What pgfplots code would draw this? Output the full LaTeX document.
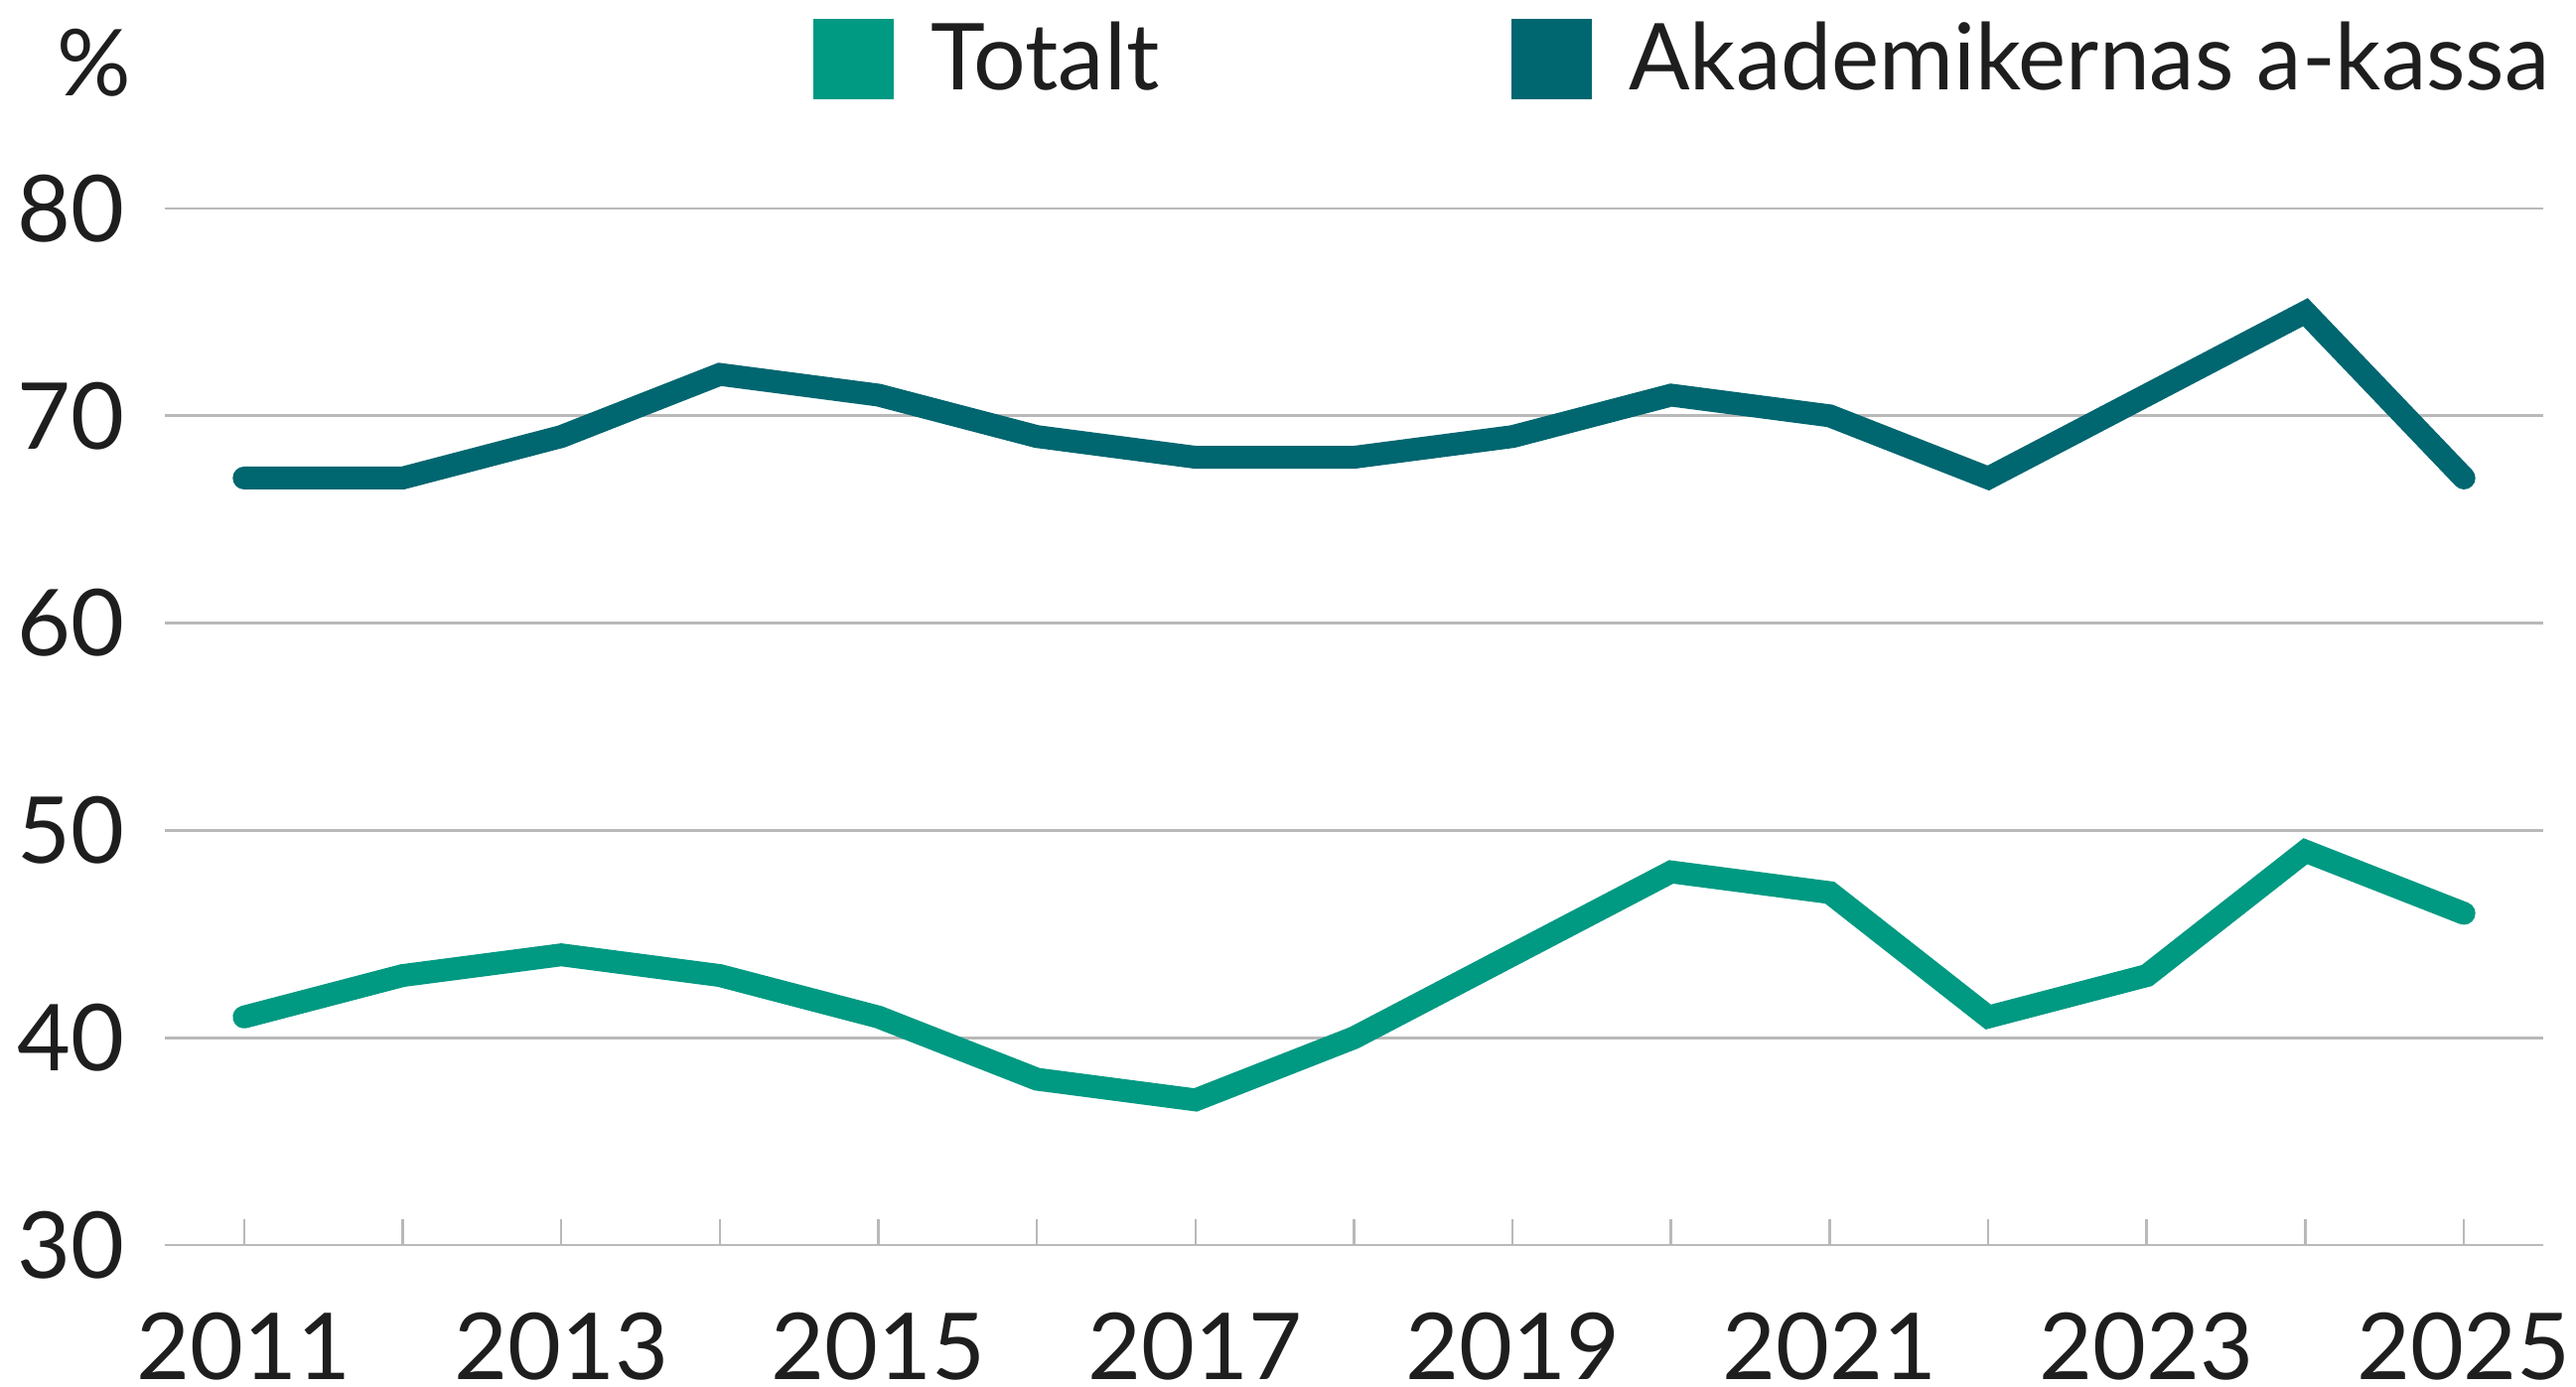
\documentclass[border=0pt]{standalone}
\usepackage{fontspec}
\setmainfont{Lato}
\usepackage{pgfplots}
\pgfplotsset{compat=1.18}
\definecolor{totc}{RGB}{0,153,130}
\definecolor{akac}{RGB}{0,102,112}
\definecolor{gridc}{RGB}{185,185,185}
\definecolor{txt}{RGB}{30,30,30}
\begin{document}
\begin{tikzpicture}
\begin{axis}[
  at={(0,0)}, anchor=south west,
  scale only axis,
  width=479pt, height=208.8pt,
  xmin=2010.5, xmax=2025.5,
  ymin=30, ymax=80,
  clip=false,
  axis line style={draw=none},
  ytick={30,40,50,60,70,80},
  xtick={2011,2012,...,2025},
  xticklabels={2011,,2013,,2015,,2017,,2019,,2021,,2023,,2025},
  xtick pos=bottom, ytick pos=left,
  xtick align=inside,
  major tick length=5.2pt,
  xtick style={draw=gridc, line width=0.5pt},
  ytick style={draw=none},
  ymajorgrids,
  grid style={draw=gridc, line width=0.55pt},
  /pgf/number format/assume math mode=true,
  tick label style={font=\fontsize{18.6pt}{22pt}\selectfont, text=txt},
  yticklabel style={anchor=east, inner sep=0pt, xshift=-8pt},
  xticklabel style={anchor=north, inner sep=0pt, yshift=-13.4pt},
  legend columns=2,
  legend image code/.code={\fill[#1, draw=none] (0pt,-8.1pt) rectangle (16.2pt,8.1pt);},
  legend style={draw=none, fill=none, at={(axis description cs:1,1.144)}, anchor=east, xshift=1.5pt,
    font=\fontsize{18.6pt}{22pt}\selectfont, text=txt, inner sep=0pt,
    nodes={inner sep=0pt},
    /tikz/every odd column/.append style={column sep=7.4pt},
    /tikz/every even column/.append style={column sep=71pt}},
]
\addplot[color=totc, line width=4.6pt, line cap=round] coordinates {
(2011,41) (2012,43) (2013,44) (2014,43) (2015,41) (2016,38) (2017,37) (2018,40)
(2019,44) (2020,48) (2021,47) (2022,41) (2023,43) (2024,49) (2025,46)};
\addlegendentry{Totalt}
\addplot[color=akac, line width=4.6pt, line cap=round] coordinates {
(2011,67) (2012,67) (2013,69) (2014,72) (2015,71) (2016,69) (2017,68) (2018,68)
(2019,69) (2020,71) (2021,70) (2022,67) (2023,71) (2024,75) (2025,67)};
\addlegendentry{\scalebox{0.979}[1]{Akademikernas a-kassa}}
\node[anchor=east, inner sep=0pt, xshift=-6.6pt, text=txt, font=\fontsize{18.6pt}{22pt}\selectfont] at (axis description cs:0,1.1408) {\%};
\end{axis}
\pgfresetboundingbox
\useasboundingbox (-33.2pt,-28.4pt) rectangle (485.6pt,250.8pt);
\end{tikzpicture}
\end{document}
